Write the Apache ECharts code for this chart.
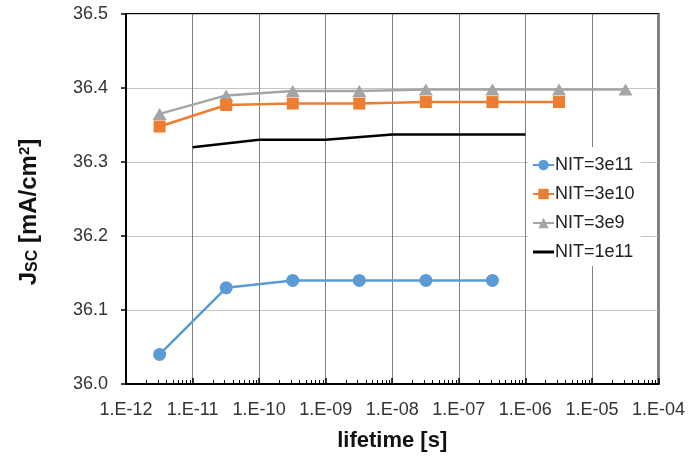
<!DOCTYPE html>
<html>
<head>
<meta charset="utf-8">
<script src="https://cdn.jsdelivr.net/npm/echarts@6/dist/echarts.min.js"></script>
<style>
  html, body { margin: 0; padding: 0; background: #fff; }
  #chart { width: 688px; height: 463px; }
</style>
</head>
<body>
<div id="chart"></div>
<script>
// Short-circuit current density versus carrier lifetime for several NIT levels
const seriesNames = ['NIT=3e11', 'NIT=3e10', 'NIT=3e9', 'NIT=1e11'];

const lifetime3e11 = [3.2e-12, 3.2e-11, 3.2e-10, 3.2e-9, 3.2e-8, 3.2e-7];
const jsc3e11 = [36.04, 36.13, 36.14, 36.14, 36.14, 36.14];

const lifetime3e10 = [3.2e-12, 3.2e-11, 3.2e-10, 3.2e-9, 3.2e-8, 3.2e-7, 3.2e-6];
const jsc3e10 = [36.348, 36.377, 36.379, 36.379, 36.381, 36.381, 36.381];

const lifetime3e9 = [3.2e-12, 3.2e-11, 3.2e-10, 3.2e-9, 3.2e-8, 3.2e-7, 3.2e-6, 3.2e-5];
const jsc3e9 = [36.365, 36.390, 36.396, 36.396, 36.398, 36.398, 36.398, 36.398];

const lifetime1e11 = [1e-11, 1e-10, 1e-9, 1e-8, 1e-7, 1e-6];
const jsc1e11 = [36.32, 36.33, 36.33, 36.337, 36.337, 36.337];

const xMin = 1e-12, xMax = 1e-4;
const yMin = 36.0, yMax = 36.5, yStep = 0.1;

const FONT = '"Liberation Sans", Arial, sans-serif';
const zip = (xs, ys) => xs.map((x, i) => [x, ys[i]]);

function expLabel(v) {
  const e = Math.round(Math.log10(v));
  const a = Math.abs(e);
  return '1.E' + (e < 0 ? '-' : '+') + (a < 10 ? '0' + a : a);
}

const chart = echarts.init(document.getElementById('chart'), null, { renderer: 'canvas' });

const option = {
  backgroundColor: '#fff',
  animation: false,
  textStyle: { fontFamily: FONT },
  grid: {
    left: 126, right: 28, top: 14, bottom: 79,
    show: true, borderColor: '#000', borderWidth: 2, backgroundColor: 'transparent'
  },
  legend: {
    orient: 'vertical',
    left: 528, top: 147,
    padding: [9, 6, 5, 4],
    backgroundColor: '#fff',
    itemWidth: 21, itemHeight: 13, itemGap: 11,
    textStyle: { fontSize: 18, color: '#222', fontFamily: FONT, padding: [0, 0, 0, -4] },
    data: [
      seriesNames[0],
      seriesNames[1],
      seriesNames[2],
      { name: seriesNames[3], icon: 'path://M0,0 L21,0 L21,3 L0,3 Z', itemStyle: { color: '#000' } }
    ]
  },
  xAxis: {
    type: 'log', logBase: 10, min: xMin, max: xMax, splitNumber: 8,
    name: 'lifetime [s]', nameLocation: 'middle', nameGap: 46,
    nameTextStyle: { fontSize: 22, fontWeight: 'bold', color: '#111', fontFamily: FONT },
    axisLine: { show: true, onZero: false, lineStyle: { color: '#000', width: 2 } },
    axisTick: { show: true, inside: true, length: 6, lineStyle: { color: '#000', width: 1.5 } },
    axisLabel: { fontSize: 18, color: '#333', margin: 17, formatter: expLabel, fontFamily: FONT },
    splitLine: { show: true, lineStyle: { color: '#808080', width: 1 } }
  },
  yAxis: {
    type: 'value', min: yMin, max: yMax, interval: yStep,
    name: '{j|J}{s|SC}{j| [mA/cm}{p|2}{j|]}', nameLocation: 'middle', nameGap: 85, nameRotate: 90,
    nameTextStyle: {
      color: '#111',
      padding: [0, 26, 0, 0],
      rich: {
        j: { fontSize: 24, fontWeight: 'bold', color: '#111', fontFamily: FONT },
        s: { fontSize: 16, fontWeight: 'bold', color: '#111', fontFamily: FONT, verticalAlign: 'bottom' },
        p: { fontSize: 15, fontWeight: 'bold', color: '#111', fontFamily: FONT, verticalAlign: 'top' }
      }
    },
    axisLine: { show: true, lineStyle: { color: '#000', width: 2 } },
    axisTick: { show: true, inside: false, length: 5, lineStyle: { color: '#000', width: 1.5 } },
    axisLabel: { fontSize: 18, color: '#333', margin: 18, formatter: v => v.toFixed(1), fontFamily: FONT },
    splitLine: { show: true, lineStyle: { color: '#c4c4c4', width: 1 } }
  },
  series: [
    {
      name: seriesNames[0], type: 'line', data: zip(lifetime3e11, jsc3e11),
      symbol: 'circle', symbolSize: 13, z: 4,
      lineStyle: { color: '#5b9bd5', width: 2.5 },
      itemStyle: { color: '#5b9bd5' }
    },
    {
      name: seriesNames[1], type: 'line', data: zip(lifetime3e10, jsc3e10),
      symbol: 'rect', symbolSize: 12, z: 4,
      lineStyle: { color: '#ed7d31', width: 2.5 },
      itemStyle: { color: '#ed7d31' }
    },
    {
      name: seriesNames[2], type: 'line', data: zip(lifetime3e9, jsc3e9),
      symbol: 'triangle', symbolSize: [14, 12], z: 3,
      lineStyle: { color: '#a5a5a5', width: 2.5 },
      itemStyle: { color: '#a5a5a5' }
    },
    {
      name: seriesNames[3], type: 'line', data: zip(lifetime1e11, jsc1e11),
      symbol: 'none', z: 3,
      lineStyle: { color: '#000', width: 2.5 },
      itemStyle: { color: '#000' }
    }
  ]
};

chart.setOption(option);

// Minor ticks (2..9 within each decade) placed through the log axis scale
const minorTicks = [];
const yBottom = chart.convertToPixel({ yAxisIndex: 0 }, yMin);
for (let e = Math.log10(xMin); e < Math.log10(xMax); e++) {
  for (let k = 2; k <= 9; k++) {
    const x = Math.round(chart.convertToPixel({ xAxisIndex: 0 }, k * Math.pow(10, e))) + 0.5;
    minorTicks.push({
      type: 'line', silent: true, z: 10,
      shape: { x1: x, y1: yBottom, x2: x, y2: yBottom - 4 },
      style: { stroke: '#000', lineWidth: 1 }
    });
  }
}
chart.setOption({ graphic: minorTicks });
</script>
</body>
</html>
